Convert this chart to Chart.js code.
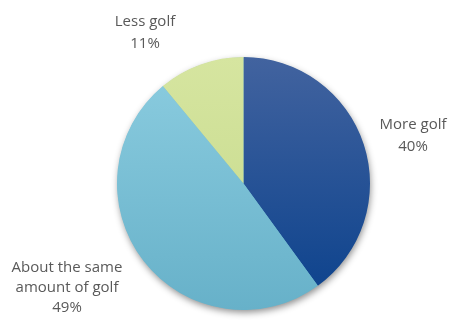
<!DOCTYPE html>
<html>
<head>
<meta charset="utf-8">
<script src="https://cdn.jsdelivr.net/npm/chart.js@4"></script>
<style>
  html, body { margin: 0; padding: 0; background: #fff; }
  #wrap { width: 450px; height: 320px; }
</style>
</head>
<body>
<div id="wrap"><canvas id="c"></canvas></div>
<script>
var categories = ['More golf', 'About the same amount of golf', 'Less golf'];
var labelLines = [['More golf'], ['About the same', 'amount of golf'], ['Less golf']];
var shares = [40, 49, 11];

// gradient stops (top, bottom) per slice
var sliceColors = [
    ['#42639f', '#0a418c'],
    ['#8ccde0', '#67b1c9'],
    ['#d6e5a0', '#c4d98a']
];
// label centres in px (first line), line height
var labelPos = [[413, 125], [67, 268], [145, 22]];
var lineHeight = 22;

function fillFor(ctx) {
    var chart = ctx.chart, area = chart.chartArea;
    if (!area) return sliceColors[ctx.dataIndex][0];
    var g = chart.ctx.createLinearGradient(0, area.top, 0, area.bottom);
    g.addColorStop(0, sliceColors[ctx.dataIndex][0]);
    g.addColorStop(1, sliceColors[ctx.dataIndex][1]);
    return g;
}

var shadowPlugin = {
    id: 'pieShadow',
    beforeDatasetsDraw: function(chart) {
        var arc = chart.getDatasetMeta(0).data[0];
        if (!arc) return;
        var ctx = chart.ctx;
        ctx.save();
        ctx.shadowColor = 'rgba(0,0,0,0.45)';
        ctx.shadowBlur = 7;
        ctx.shadowOffsetX = 1;
        ctx.shadowOffsetY = 3;
        ctx.fillStyle = '#6ab2c9';
        ctx.beginPath();
        ctx.arc(arc.x, arc.y, arc.outerRadius - 0.5, 0, Math.PI * 2);
        ctx.fill();
        ctx.restore();
    }
};

var labelPlugin = {
    id: 'sliceLabels',
    afterDraw: function(chart) {
        var ctx = chart.ctx;
        ctx.save();
        ctx.font = '15px "Open Sans", "Liberation Sans", sans-serif';
        ctx.fillStyle = '#595959';
        ctx.textAlign = 'center';
        ctx.textBaseline = 'middle';
        shares.forEach(function(v, i) {
            var lines = labelLines[i].concat([v + '%']);
            var x = labelPos[i][0], y = labelPos[i][1];
            lines.forEach(function(t, j) {
                ctx.fillText(t, x, y + j * (i == 1 ? 20 : lineHeight));
            });
        });
        ctx.restore();
    }
};

new Chart(document.getElementById('c').getContext('2d'), {
    type: 'pie',
    data: {
        labels: categories,
        datasets: [{
            data: shares,
            backgroundColor: fillFor,
            borderWidth: 0
        }]
    },
    options: {
        responsive: true,
        maintainAspectRatio: false,
        animation: false,
        layout: { padding: { left: 117, right: 80, top: 57, bottom: 10 } },
        plugins: {
            legend: { display: false },
            tooltip: { enabled: false }
        }
    },
    plugins: [shadowPlugin, labelPlugin]
});
</script>
</body>
</html>
